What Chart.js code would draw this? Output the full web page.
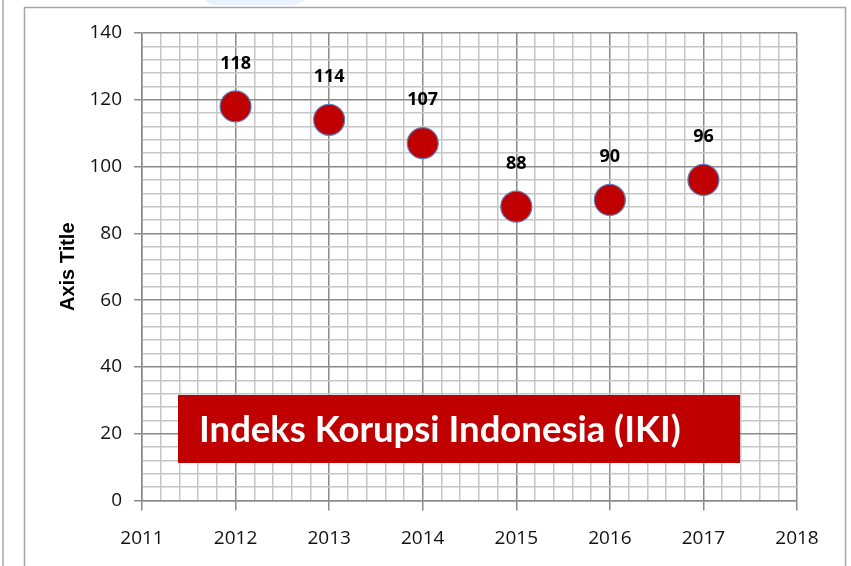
<!DOCTYPE html>
<html>
<head>
<meta charset="utf-8">
<script src="https://cdn.jsdelivr.net/npm/chart.js@4.4.1/dist/chart.umd.min.js"></script>
<style>
  html, body { margin: 0; padding: 0; background: #fff; }
  #wrap { width: 851px; height: 566px; position: relative; }
</style>
</head>
<body>
<div id="wrap"><canvas id="ikiChart" width="851" height="566"></canvas></div>
<script>
// IKI values per year
const YEARS = [2012, 2013, 2014, 2015, 2016, 2017];
const IKI_VALUES = [118, 114, 107, 88, 90, 96];
const BOX_TITLE = 'Indeks Korupsi Indonesia (IKI)';
const Y_TITLE = 'Axis Title';

const MAJOR = '#8a8a8a';
const MINOR = '#c6c6c6';
const RED = '#C00000';

// frame lines around the chart
const framePlugin = {
  id: 'frame',
  beforeDraw(chart) {
    const c = chart.ctx;
    c.save();
    c.fillStyle = '#ffffff';
    c.fillRect(0, 0, chart.width, chart.height);
    c.fillStyle = '#eaf2fd';
    c.beginPath();
    c.moveTo(205, 0);
    c.lineTo(305, 0);
    c.quadraticCurveTo(300, 5, 290, 5);
    c.lineTo(215, 5);
    c.quadraticCurveTo(208, 5, 205, 0);
    c.fill();
    c.strokeStyle = '#a6a6a6';
    c.lineWidth = 1.5;
    c.beginPath();
    c.moveTo(24.5, chart.height + 2);
    c.lineTo(24.5, 7.5);
    c.lineTo(845.5, 7.5);
    c.lineTo(845.5, chart.height + 2);
    c.stroke();
    c.beginPath();
    c.moveTo(3, 0);
    c.lineTo(3, chart.height);
    c.stroke();
    c.restore();
  }
};

// value labels above points + the red caption box
const labelPlugin = {
  id: 'valueLabels',
  afterDatasetsDraw(chart) {
    const c = chart.ctx;
    const meta = chart.getDatasetMeta(0);
    c.save();
    c.fillStyle = '#000';
    c.font = 'bold 18px "Open Sans"';
    c.textAlign = 'center';
    c.textBaseline = 'middle';
    meta.data.forEach((pt, i) => {
      c.fillText(String(IKI_VALUES[i]), pt.x, pt.y - 43);
    });
    c.fillStyle = RED;
    c.fillRect(178, 395, 562, 68);
    c.fillStyle = '#fff';
    c.font = 'bold 36.5px Lato';
    c.textAlign = 'left';
    c.textBaseline = 'alphabetic';
    c.fillText(BOX_TITLE, 199, 442);
    c.restore();
  }
};

const isInt = v => Math.abs(v - Math.round(v)) < 1e-6;

new Chart(document.getElementById('ikiChart'), {
  type: 'scatter',
  data: {
    datasets: [{
      label: 'IKI',
      data: YEARS.map((y, i) => ({ x: y, y: IKI_VALUES[i] })),
      pointRadius: 15.5,
      pointHoverRadius: 15.5,
      backgroundColor: RED,
      borderColor: '#5b7fbf',
      borderWidth: 1.2
    }]
  },
  options: {
    responsive: false,
    animation: false,
    layout: { padding: { left: 50, top: 33, right: 54, bottom: 16 } },
    plugins: {
      legend: { display: false },
      tooltip: { enabled: false }
    },
    scales: {
      x: {
        type: 'linear',
        min: 2011,
        max: 2018,
        afterBuildTicks(scale) {
          const t = [];
          for (let i = 0; i <= 35; i++) t.push({ value: 2011 + i / 5 });
          scale.ticks = t;
        },
        afterFit(scale) { scale.height = 49.5; },
        border: { display: true, color: MAJOR, width: 1.5 },
        grid: {
          color: ctx => isInt(ctx.tick.value) ? MAJOR : MINOR,
          lineWidth: 1.5,
          tickColor: ctx => isInt(ctx.tick.value) ? MAJOR : 'rgba(0,0,0,0)',
          tickLength: 10
        },
        ticks: {
          autoSkip: false,
          maxRotation: 0,
          padding: 17,
          color: '#111',
          font: { family: 'Open Sans', size: 19 },
          callback: v => isInt(v) ? String(Math.round(v)) : ''
        }
      },
      y: {
        min: 0,
        max: 140,
        ticks: {
          stepSize: 4,
          autoSkip: false,
          padding: 12,
          color: '#111',
          font: { family: 'Open Sans', size: 19 },
          callback: v => v % 20 === 0 ? String(v) : ''
        },
        afterFit(scale) { scale.width = 92; },
        border: { display: true, color: MAJOR, width: 1.5 },
        grid: {
          color: ctx => ctx.tick.value % 20 === 0 ? MAJOR : MINOR,
          lineWidth: 1.5,
          tickColor: ctx => ctx.tick.value % 20 === 0 ? MAJOR : 'rgba(0,0,0,0)',
          tickLength: 8
        },
        title: {
          display: true,
          text: Y_TITLE,
          color: '#000',
          padding: { top: 6, bottom: 0 },
          font: { family: 'Liberation Sans', size: 20, weight: 'bold' }
        }
      }
    }
  },
  plugins: [framePlugin, labelPlugin]
});
</script>
</body>
</html>
